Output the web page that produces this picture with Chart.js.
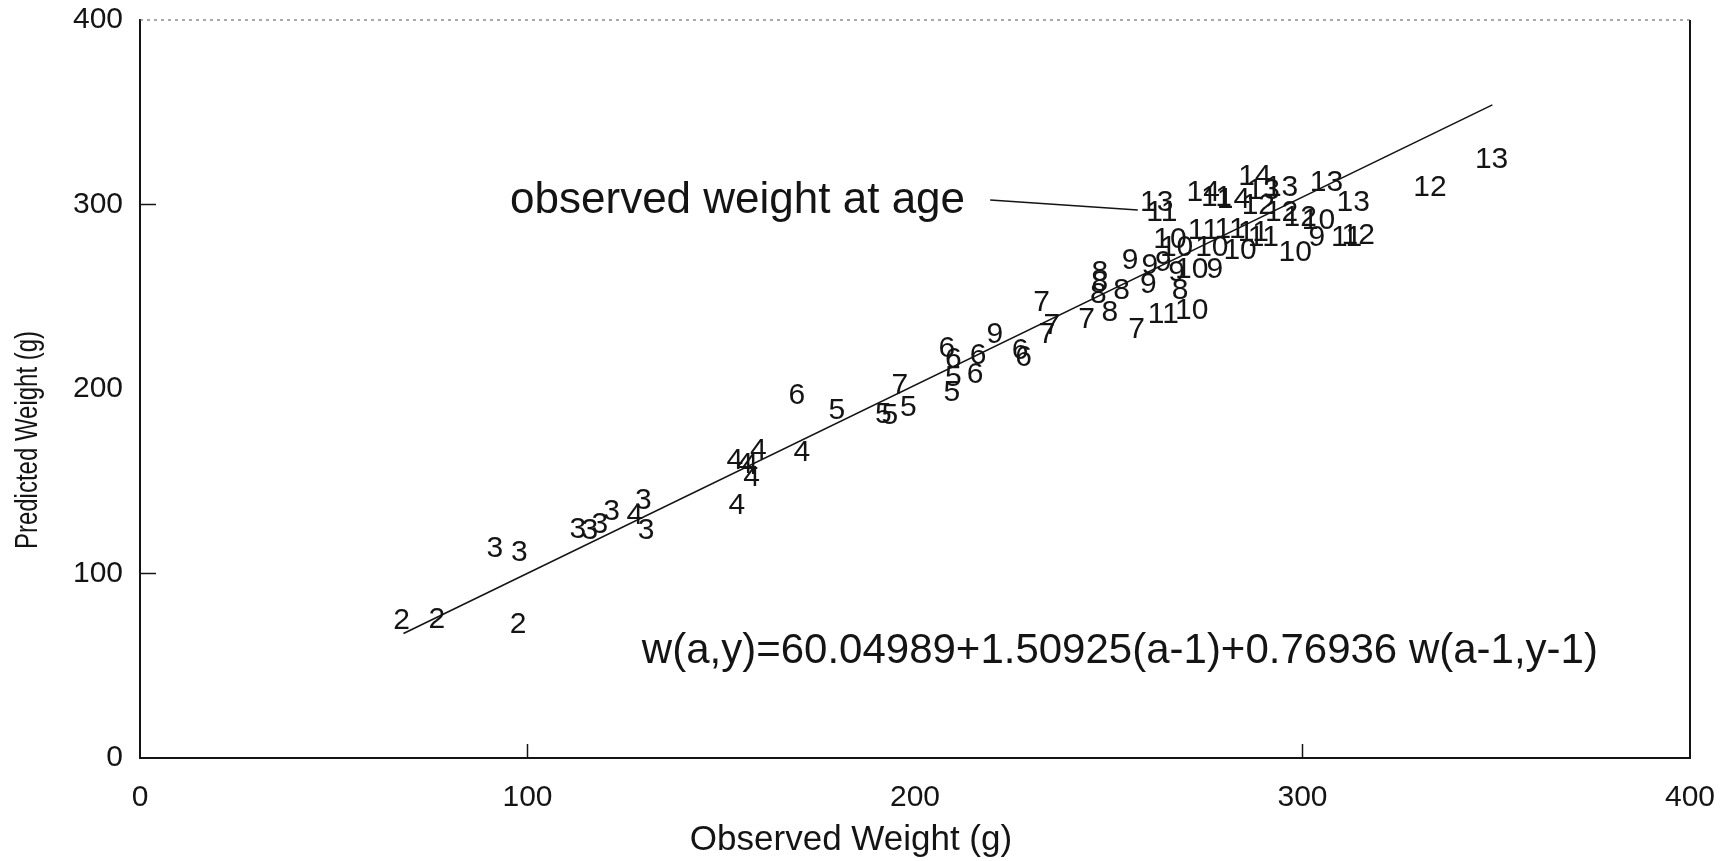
<!DOCTYPE html>
<html>
<head>
<meta charset="utf-8">
<script src="https://cdn.jsdelivr.net/npm/chart.js@4.4.1/dist/chart.umd.min.js"></script>
<style>
  html, body { margin: 0; padding: 0; background: #fff; overflow: hidden; }
  #wrap { width: 1732px; height: 861px; position: relative; }
</style>
</head>
<body>
<div id="wrap"><canvas id="weightChart"></canvas></div>
<script>
// age at capture, observed weight, predicted weight (g)
var ages = [2, 2, 2, 3, 3, 3, 3, 3, 3, 4, 3, 3, 4,
  4, 4, 4, 4, 4, 4, 6, 5, 5, 5, 5, 7, 6, 6, 5, 5, 6, 6, 9, 6, 6, 7, 7,
  7, 7, 8, 7, 8, 8, 8, 8, 9, 9, 9, 9, 9, 10, 9, 8, 11, 10,
  10, 10, 11, 10, 11, 10, 11, 13, 11, 14, 11, 14, 14, 13, 13, 12, 12, 12,
  10, 11, 9, 10, 13, 13, 11, 12, 12, 13];
var observed = [67.5, 76.6, 97.6, 91.6, 97.9, 113.0, 116.1, 118.7, 121.7, 127.7, 129.9, 130.6, 154.0,
  153.5, 156.1, 159.6, 157.8, 157.4, 170.8, 169.5, 179.8, 191.8, 193.5, 198.3, 196.1, 208.2, 209.9, 209.9, 209.5, 215.5, 216.3, 220.6, 228.0, 227.1, 234.0, 235.3,
  232.7, 244.3, 250.3, 257.2, 247.7, 247.7, 247.3, 253.3, 255.5, 260.2, 260.6, 264.1, 267.5, 271.4, 277.4, 268.4, 264.1, 271.4,
  265.8, 267.5, 274.4, 276.6, 281.3, 283.9, 289.9, 262.4, 263.7, 274.4, 277.8, 282.2, 287.7, 289.9, 294.6, 288.6, 294.6, 299.4,
  304.1, 287.3, 303.7, 298.1, 306.2, 313.1, 311.4, 314.4, 332.9, 348.8];
var predicted = [74.8, 75.7, 73.0, 113.7, 111.8, 124.0, 123.6, 126.8, 133.9, 131.7, 139.8, 123.6, 137.1,
  161.5, 159.7, 166.9, 152.5, 158.8, 166.0, 196.7, 188.6, 186.8, 185.9, 190.4, 202.2, 222.1, 216.6, 206.7, 198.5, 208.5, 218.4, 230.2, 217.5, 221.1, 230.2, 234.7,
  247.3, 238.3, 241.9, 232.9, 263.6, 258.2, 251.9, 253.7, 269.9, 257.3, 267.2, 269.0, 263.6, 265.4, 265.4, 253.7, 241.0, 242.8,
  281.7, 277.1, 286.2, 277.1, 287.1, 275.3, 282.5, 301.5, 296.1, 306.9, 304.2, 303.3, 315.8, 307.9, 309.7, 299.7, 296.1, 293.4,
  291.6, 285.3, 282.5, 274.4, 312.4, 301.5, 282.5, 283.5, 309.7, 325.0];

// fitted line and the pointer of the "observed weight at age" note
var fitX = [68, 349];
var fitY = [67.5, 354];
var pointerX = [219.4, 257.5];
var pointerY = [302.4, 297.0];

var axisTicks = [0, 100, 200, 300, 400];
var innerTicks = [100, 300]; // only these survive on the scan
var noteText = 'observed weight at age';
var noteAt = [95.5, 295.4];
var eqText = 'w(a,y)=60.04989+1.50925(a-1)+0.76936 w(a-1,y-1)';
var eqAt = [129.5, 51.5];
var xTitle = 'Observed Weight (g)';
var yTitle = 'Predicted Weight (g)';

var FONT = '"Liberation Sans", Arial, Helvetica, sans-serif';
var INK = '#141414';

var pts = [];
for (var i = 0; i < ages.length; i++) pts.push({ x: observed[i], y: predicted[i] });
var fit = [];
for (var j = 0; j < fitX.length; j++) fit.push({ x: fitX[j], y: fitY[j] });
var pointer = [];
for (var k = 0; k < pointerX.length; k++) pointer.push({ x: pointerX[k], y: pointerY[k] });

var decor = {
  id: 'decor',
  afterDraw: function (chart) {
    var ctx = chart.ctx;
    var a = chart.chartArea;
    var xs = chart.scales.x, ys = chart.scales.y;
    ctx.save();

    // right border solid, top border faint dotted (as on the scan)
    ctx.strokeStyle = INK;
    ctx.lineWidth = 2;
    ctx.beginPath();
    ctx.moveTo(a.right, a.top);
    ctx.lineTo(a.right, a.bottom);
    ctx.stroke();
    ctx.setLineDash([3, 4]);
    ctx.lineWidth = 1;
    ctx.strokeStyle = '#555';
    ctx.beginPath();
    ctx.moveTo(a.left, a.top);
    ctx.lineTo(a.right, a.top);
    ctx.stroke();
    ctx.setLineDash([]);

    // small inward tick marks
    ctx.strokeStyle = INK;
    ctx.lineWidth = 1.5;
    innerTicks.forEach(function (v) {
      var py = ys.getPixelForValue(v);
      ctx.beginPath();
      ctx.moveTo(a.left, py);
      ctx.lineTo(a.left + 16, py);
      ctx.stroke();
      var px = xs.getPixelForValue(v);
      ctx.beginPath();
      ctx.moveTo(px, a.bottom);
      ctx.lineTo(px, a.bottom - 14);
      ctx.stroke();
    });

    // age labels at each point
    ctx.fillStyle = INK;
    ctx.font = '30px ' + FONT;
    ctx.textAlign = 'center';
    ctx.textBaseline = 'middle';
    var meta = chart.getDatasetMeta(0);
    meta.data.forEach(function (el, idx) {
      ctx.fillText(String(ages[idx]), el.x, el.y + 1);
    });

    // notes
    ctx.textAlign = 'left';
    ctx.textBaseline = 'alphabetic';
    ctx.font = '44px ' + FONT;
    ctx.fillText(noteText, xs.getPixelForValue(noteAt[0]), ys.getPixelForValue(noteAt[1]));
    ctx.font = '42px ' + FONT;
    ctx.fillText(eqText, xs.getPixelForValue(eqAt[0]), ys.getPixelForValue(eqAt[1]));

    // axis titles
    ctx.font = '35px ' + FONT;
    ctx.textAlign = 'center';
    ctx.fillText(xTitle, 851, 850);
    ctx.save();
    ctx.translate(37, 440);
    ctx.rotate(-Math.PI / 2);
    ctx.font = '31px ' + FONT;
    var w = ctx.measureText(yTitle).width;
    ctx.scale(218 / w, 1);
    ctx.fillText(yTitle, 0, 0);
    ctx.restore();

    ctx.restore();
  }
};

function noPad(s) {
  s.paddingTop = 0; s.paddingBottom = 0;
  s.paddingLeft = 0; s.paddingRight = 0;
}

new Chart(document.getElementById('weightChart'), {
  type: 'scatter',
  data: {
    datasets: [{
      label: 'age',
      data: pts,
      pointRadius: 0,
      pointHoverRadius: 0,
      showLine: false
    }, {
      label: 'fit',
      data: fit,
      showLine: true,
      pointRadius: 0,
      borderColor: INK,
      borderWidth: 1.6,
      fill: false
    }, {
      label: 'pointer',
      data: pointer,
      showLine: true,
      pointRadius: 0,
      borderColor: INK,
      borderWidth: 1.6,
      fill: false
    }]
  },
  options: {
    responsive: true,
    maintainAspectRatio: false,
    animation: false,
    events: [],
    layout: { padding: { left: 0, top: 20, right: 42, bottom: 0 } },
    plugins: {
      legend: { display: false },
      tooltip: { enabled: false }
    },
    scales: {
      x: {
        type: 'linear',
        min: 0, max: 400,
        afterFit: function (s) { s.height = 103; noPad(s); },
        afterBuildTicks: function (s) { s.ticks = axisTicks.map(function (v) { return { value: v }; }); },
        grid: { display: false, drawTicks: false },
        border: { display: true, color: INK, width: 2 },
        ticks: { color: INK, padding: 22, font: { family: FONT, size: 30 } }
      },
      y: {
        type: 'linear',
        min: 0, max: 400,
        afterFit: function (s) { s.width = 140; noPad(s); },
        afterBuildTicks: function (s) { s.ticks = axisTicks.map(function (v) { return { value: v }; }); },
        grid: { display: false, drawTicks: false },
        border: { display: true, color: INK, width: 2 },
        ticks: { color: INK, padding: 17, font: { family: FONT, size: 30 } }
      }
    }
  },
  plugins: [decor]
});
</script>
</body>
</html>
